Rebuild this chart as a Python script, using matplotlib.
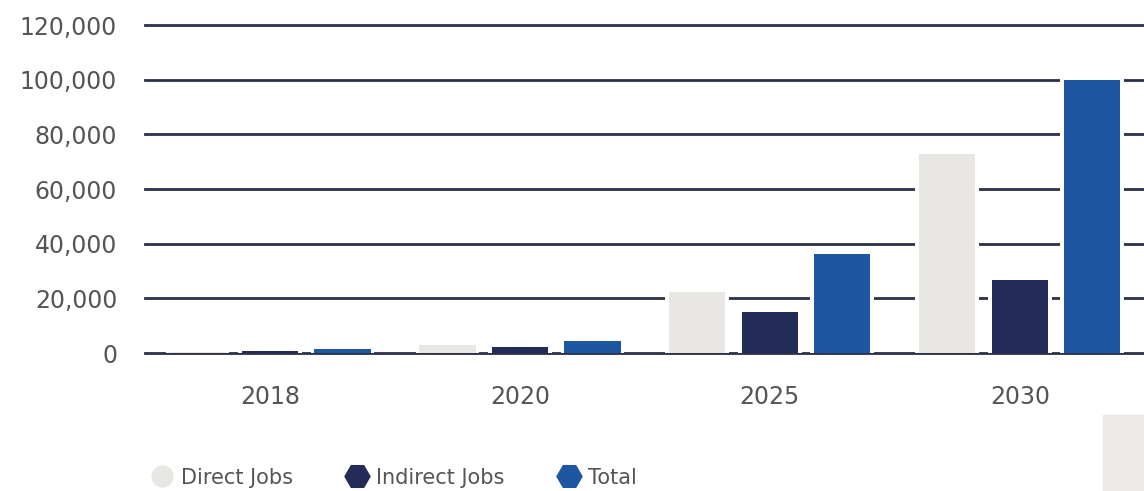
import numpy as np
import matplotlib

matplotlib.use("Agg")
import matplotlib.pyplot as plt
from matplotlib.lines import Line2D
from matplotlib.patches import Rectangle

years = ["2018", "2020", "2025", "2030"]
direct_jobs = [500, 3000, 22300, 73000]
indirect_jobs = [900, 2200, 15000, 26700]
total_jobs = [1500, 4400, 36200, 100000]

series_names = ["Direct Jobs", "Indirect Jobs", "Total"]
colors = ["#E9E7E4", "#232C58", "#1F56A1"]
grid_color = "#2C3048"
text_color = "#555555"

plt.rcParams["font.family"] = ["DejaVu Sans"]

fig = plt.figure(figsize=(11.44, 4.91), dpi=100)
ax = fig.add_axes([0.1267, 0.281, 0.874, 0.668])

x = np.arange(len(years))
width = 0.225
step = 0.29
for i, (vals, c) in enumerate(zip([direct_jobs, indirect_jobs, total_jobs], colors)):
    pos = x + (i - 1) * step
    # white backing breaks the gridlines around each bar
    ax.bar(pos, np.array(vals) + 600, width + 0.03, color="white", zorder=2)
    ax.bar(pos, vals, width, color=c, zorder=3)

ax.set_xlim(-0.5, 3.5)
ax.set_ylim(0, 120000)
ticks = list(range(0, 120001, 20000))
ax.set_yticks(ticks)
ax.set_yticklabels([f"{v:,}" for v in ticks])
ax.set_xticks(x)
ax.set_xticklabels(years)
for v in ticks:
    ax.axhline(v, color=grid_color, linewidth=2, zorder=1, clip_on=False)

for s in ax.spines.values():
    s.set_visible(False)
ax.tick_params(axis="both", length=0, labelsize=17, colors=text_color)
ax.tick_params(axis="y", pad=20)
ax.tick_params(axis="x", pad=23)

handles = [
    Line2D([], [], linestyle="none", marker="o", markersize=15, color=colors[0]),
    Line2D([], [], linestyle="none", marker="H", markersize=18, color=colors[1]),
    Line2D([], [], linestyle="none", marker="H", markersize=18, color=colors[2]),
]
leg = fig.legend(handles, series_names, loc="center left", bbox_to_anchor=(0.116, 0.027),
                 ncol=3, frameon=False, fontsize=15, handletextpad=0.4,
                 columnspacing=2.6, handlelength=1.0)
for t in leg.get_texts():
    t.set_color(text_color)

fig.patches.append(Rectangle((0.964, 0.0), 0.04, 0.155, transform=fig.transFigure,
                             color="#ECEAE7", zorder=0))

fig.savefig("out.png", dpi=100)
